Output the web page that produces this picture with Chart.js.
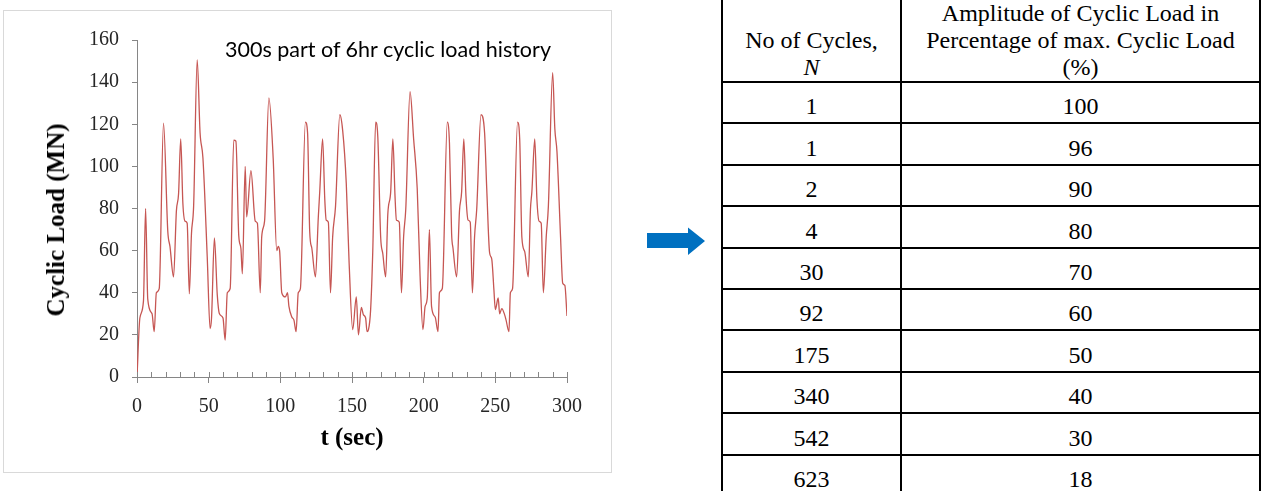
<!DOCTYPE html>
<html>
<head>
<meta charset="utf-8">
<script src="https://cdn.jsdelivr.net/npm/chart.js@4.4.0/dist/chart.umd.min.js"></script>
<style>
  html, body { margin: 0; padding: 0; background: #fff; width: 1265px; height: 491px; overflow: hidden; }
  #frame { position: absolute; left: 3px; top: 10px; width: 607px; height: 461px; border: 1px solid #d9d9d9; }
  #chart { position: absolute; left: 0; top: 0; }
  #note { position: absolute; left: 225px; top: 36px; font: 21.5px Lato, sans-serif; color: #000; white-space: nowrap; }
  #ytitle { position: absolute; left: 56px; top: 220px; transform: translate(-50%, -50%) rotate(-90deg);
    font: bold 25px "Liberation Serif", "Times New Roman", serif; color: #000; white-space: nowrap; }
  #arrow { position: absolute; left: 640px; top: 220px; }
  table { position: absolute; left: 721px; top: -3px; border-collapse: collapse; }
  td, th { font-family: "Liberation Serif", "Times New Roman", serif; font-size: 24px; color: #000;
    border: 2px solid #000; text-align: center; vertical-align: bottom; padding: 0 0 2px 0; line-height: 27px; font-weight: normal; }
  th { height: 82px; padding: 0; }
  tbody tr { height: 41.4px; }
  .c1 { width: 177px; }
  .c2 { width: 357px; }
</style>
</head>
<body>
<div id="frame"><canvas id="chart" width="607" height="461"></canvas></div>
<div id="note">300s part of 6hr cyclic load history</div>
<div id="ytitle">Cyclic Load (MN)</div>
<svg id="arrow" width="70" height="45">
  <polygon points="7,13 48,13 48,7.5 65,21 48,35 48,28 7,28" fill="#0070c0"/>
</svg>
<table>
  <thead>
    <tr>
      <th class="c1">No of Cycles,<br><i>N</i></th>
      <th class="c2">Amplitude of Cyclic Load in<br>Percentage of max. Cyclic Load<br>(%)</th>
    </tr>
  </thead>
  <tbody id="rows"></tbody>
</table>
<script>
// 300 s load trace
const timeSec = [0, 2, 4.5, 6, 7.5, 10.5, 12, 13.5, 15.5, 18.5, 21.5, 23, 25.5, 27.5, 29, 30.5, 32, 33.5, 35, 36.5, 38, 39.5,
  42, 44, 46, 49, 51, 52, 54, 56, 57.5, 60, 61.5, 63, 65, 67.5, 69, 71, 72.5, 73.5, 75.5, 76.5, 79.5, 82.5, 84, 86, 87, 89,
  92, 95, 97.5, 98.5, 99.5, 101, 103.5, 105, 106, 108, 109.5, 111, 112.5, 114, 117.5, 119, 120.5, 122, 124.5, 126.5, 127.5,
  129.5, 131, 132, 133.5, 135, 136.5, 138.5, 141.5, 143.5, 146, 148, 150.5, 153, 154.5, 156.5, 158, 159.5, 160.5, 161.5, 163,
  164.5, 166.5, 168, 170, 171.5, 173.5, 175, 177, 178.5, 180, 181, 183, 184.5, 186, 187.5, 190.5, 193, 195.5, 197.5, 199.5,
  201, 202.5, 204, 205.5, 208, 210, 211, 213, 216.5, 218, 219.5, 220.5, 223, 225, 226.5, 228, 229.5, 231, 232.5, 234, 235.5,
  237, 240, 242.5, 244, 246, 247.5, 249, 250, 252, 253, 254.5, 256.5, 257.5, 259.5, 260.5, 262, 265.5, 267, 268.5, 270.5,
  273, 274.5, 275.5, 277.5, 279, 280.5, 282, 283.5, 285.5, 287, 290, 291.5, 293, 295.5, 297, 298.5, 300];
const loadMN = [0, 28, 36, 80, 37, 30, 21.5, 40, 42, 120.5, 69, 62, 47.5, 79, 87, 113, 82.5, 74, 73, 39.5, 68, 81,
  150.5, 116, 104, 57, 23, 28, 66, 39, 30, 28, 17.5, 40, 42, 112.5, 112, 67, 61, 49, 100, 76, 98, 74, 73, 40, 66.5, 74,
  132.5, 104, 60, 62, 60, 40, 38, 40, 33.5, 28.5, 27, 21.5, 40, 42, 121, 116, 69, 61, 47.5, 76, 88,
  113, 84.5, 74.5, 73.5, 40, 66.5, 81, 124.5, 117, 92, 54, 22.5, 38, 20, 33, 29.5, 28, 21.5, 22.5, 32,
  60, 121, 114, 66.5, 58.5, 47.5, 77.5, 88, 113, 86, 74.5, 73.5, 40, 66.5, 79.5, 135.5, 113, 89.5, 48, 22.5,
  33.5, 37.5, 70, 33.5, 28.5, 21.5, 40, 42, 121, 111, 68, 61, 47.5, 79, 88, 113, 86, 74.5, 73.5, 40, 66.5,
  79.5, 124.5, 116, 89.5, 59, 56, 41.5, 32, 37.5, 30, 32.5, 29.5, 27, 21.5, 40, 42, 121, 113, 66.5, 59.5,
  47.5, 79.5, 88, 113, 84.5, 74, 73, 40, 66.5, 81, 144.5, 118, 107, 66.5, 44.5, 43.5, 29];

// table on the right
const tableCycles = [1, 1, 2, 4, 30, 92, 175, 340, 542, 623];
const tableAmplitude = [100, 96, 90, 80, 70, 60, 50, 40, 30, 18];

const axisGrey = "#868686";
const tickFont = { family: "'Liberation Serif', 'Times New Roman', serif", size: 20 };
const titleFont = { family: "'Liberation Serif', 'Times New Roman', serif", size: 25, weight: "bold" };

const rows = document.getElementById("rows");
tableCycles.forEach((n, i) => {
  const tr = document.createElement("tr");
  tr.innerHTML = "<td>" + n + "</td><td>" + tableAmplitude[i] + "</td>";
  rows.appendChild(tr);
});

// short ticks on the inner side of the x axis, every 10 s
const innerTicks = {
  id: "innerTicks",
  afterDatasetsDraw(chart) {
    const { ctx, chartArea, scales } = chart;
    ctx.save();
    ctx.strokeStyle = axisGrey;
    ctx.lineWidth = 1;
    scales.x.ticks.forEach((t) => {
      const px = Math.round(scales.x.getPixelForValue(t.value)) + 0.5;
      ctx.beginPath();
      ctx.moveTo(px, chartArea.bottom);
      ctx.lineTo(px, chartArea.bottom - 5);
      ctx.stroke();
    });
    ctx.restore();
  },
};

new Chart(document.getElementById("chart"), {
  type: "line",
  data: {
    datasets: [
      {
        data: timeSec.map((t, i) => ({ x: t, y: loadMN[i] })),
        borderColor: "#c65653",
        borderWidth: 1.3,
        pointRadius: 0,
        cubicInterpolationMode: "monotone",
        fill: false,
      },
    ],
  },
  options: {
    responsive: false,
    animation: false,
    layout: { padding: { left: 20, right: 44, top: 29, bottom: 15 } },
    plugins: { legend: { display: false }, tooltip: { enabled: false } },
    scales: {
      x: {
        type: "linear",
        min: 0,
        max: 300,
        afterFit: (s) => { s.height = 80; },
        border: { color: axisGrey },
        grid: {
          drawOnChartArea: false,
          tickLength: 6,
          tickColor: (c) => (c.tick && c.tick.value % 50 === 0 ? axisGrey : "rgba(0,0,0,0)"),
        },
        ticks: {
          stepSize: 10,
          autoSkip: false,
          maxRotation: 0,
          padding: 12,
          color: "#262626",
          font: tickFont,
          callback: (v) => (v % 50 === 0 ? v : ""),
        },
        title: { display: true, text: "t (sec)", color: "#000", font: titleFont, padding: { top: 0, bottom: 3 } },
      },
      y: {
        min: 0,
        max: 160,
        afterFit: (s) => { s.width = 113; },
        border: { color: axisGrey },
        grid: { drawOnChartArea: false, tickLength: 5, tickColor: axisGrey },
        ticks: { stepSize: 20, padding: 13, color: "#262626", font: tickFont },
      },
    },
  },
  plugins: [innerTicks],
});
</script>
</body>
</html>
